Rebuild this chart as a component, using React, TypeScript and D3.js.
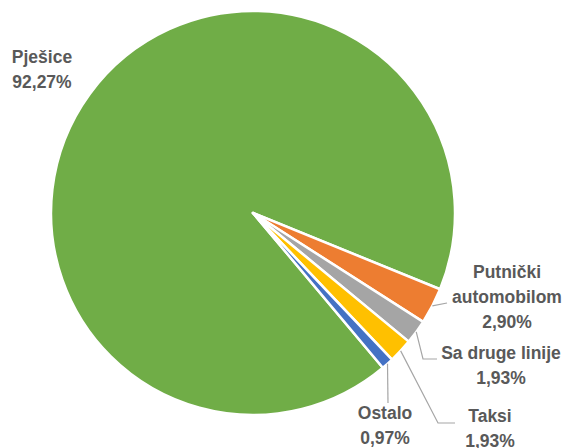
import React from 'react';
import * as d3 from 'd3';

const categories = ['Pješice', 'Putnički automobilom', 'Sa druge linije', 'Taksi', 'Ostalo'];
const shares = [92.27, 2.9, 1.93, 1.93, 0.97];
const valueLabels = ['92,27%', '2,90%', '1,93%', '1,93%', '0,97%'];
const labelLines = [['Pješice'], ['Putnički', 'automobilom'], ['Sa druge linije'], ['Taksi'], ['Ostalo']];
const colors = ['#70AD47', '#ED7D31', '#A5A5A5', '#FFC000', '#4472C4'];

// label placement (Excel labels were dragged by hand)
const labelPos = [
  { x: 42, y: 63, leader: null },
  { x: 507, y: 278, leader: [[447, 303]] },
  { x: 501, y: 359, leader: [[423, 359], [437, 359]] },
  { x: 490, y: 422, leader: [[438, 423], [455, 423]] },
  { x: 385, y: 419, leader: [[388, 403]] },
];

const W = 567;
const H = 448;
const cx = 253;
const cy = 213;
const R = 202;

export default function App() {
  const data = categories.map((c, i) => ({ name: c, value: shares[i], i }));
  const start = (140 * Math.PI) / 180;
  const pie = d3
    .pie<any>()
    .sort(null)
    .value((d) => d.value)
    .startAngle(start)
    .endAngle(start + 2 * Math.PI);
  const arcs = pie(data);
  const arc = d3.arc<any>().innerRadius(0).outerRadius(R);
  const line = d3.line();

  return (
    <svg
      width={W}
      height={H}
      style={{ position: 'absolute', left: 0, top: 0, fontFamily: '"Liberation Sans", Arial, sans-serif' }}
    >
      <rect width={W} height={H} fill="#fff" />
      <g transform={`translate(${cx},${cy})`}>
        {arcs.map((a, i) => (
          <path key={i} d={arc(a) || ''} fill={colors[i]} stroke="#fff" strokeWidth={2.5} strokeLinejoin="round" />
        ))}
      </g>
      {arcs.map((a, i) => {
        const lp = labelPos[i];
        if (!lp.leader) return null;
        const mid = (a.startAngle + a.endAngle) / 2;
        const p0: [number, number] = [cx + R * Math.sin(mid), cy - R * Math.cos(mid)];
        const pts = [p0, ...(lp.leader as [number, number][])];
        return <path key={'l' + i} d={line(pts) || ''} fill="none" stroke="#a6a6a6" strokeWidth={1.2} />;
      })}
      {arcs.map((a, i) => {
        const lp = labelPos[i];
        const lines = [...labelLines[i], valueLabels[i]];
        return (
          <text
            key={'t' + i}
            x={lp.x}
            y={lp.y}
            textAnchor="middle"
            fontSize={17.5}
            fontWeight="bold"
            fill="#595959"
          >
            {lines.map((t, k) => (
              <tspan key={k} x={lp.x} dy={k === 0 ? 0 : 25}>
                {t}
              </tspan>
            ))}
          </text>
        );
      })}
    </svg>
  );
}
